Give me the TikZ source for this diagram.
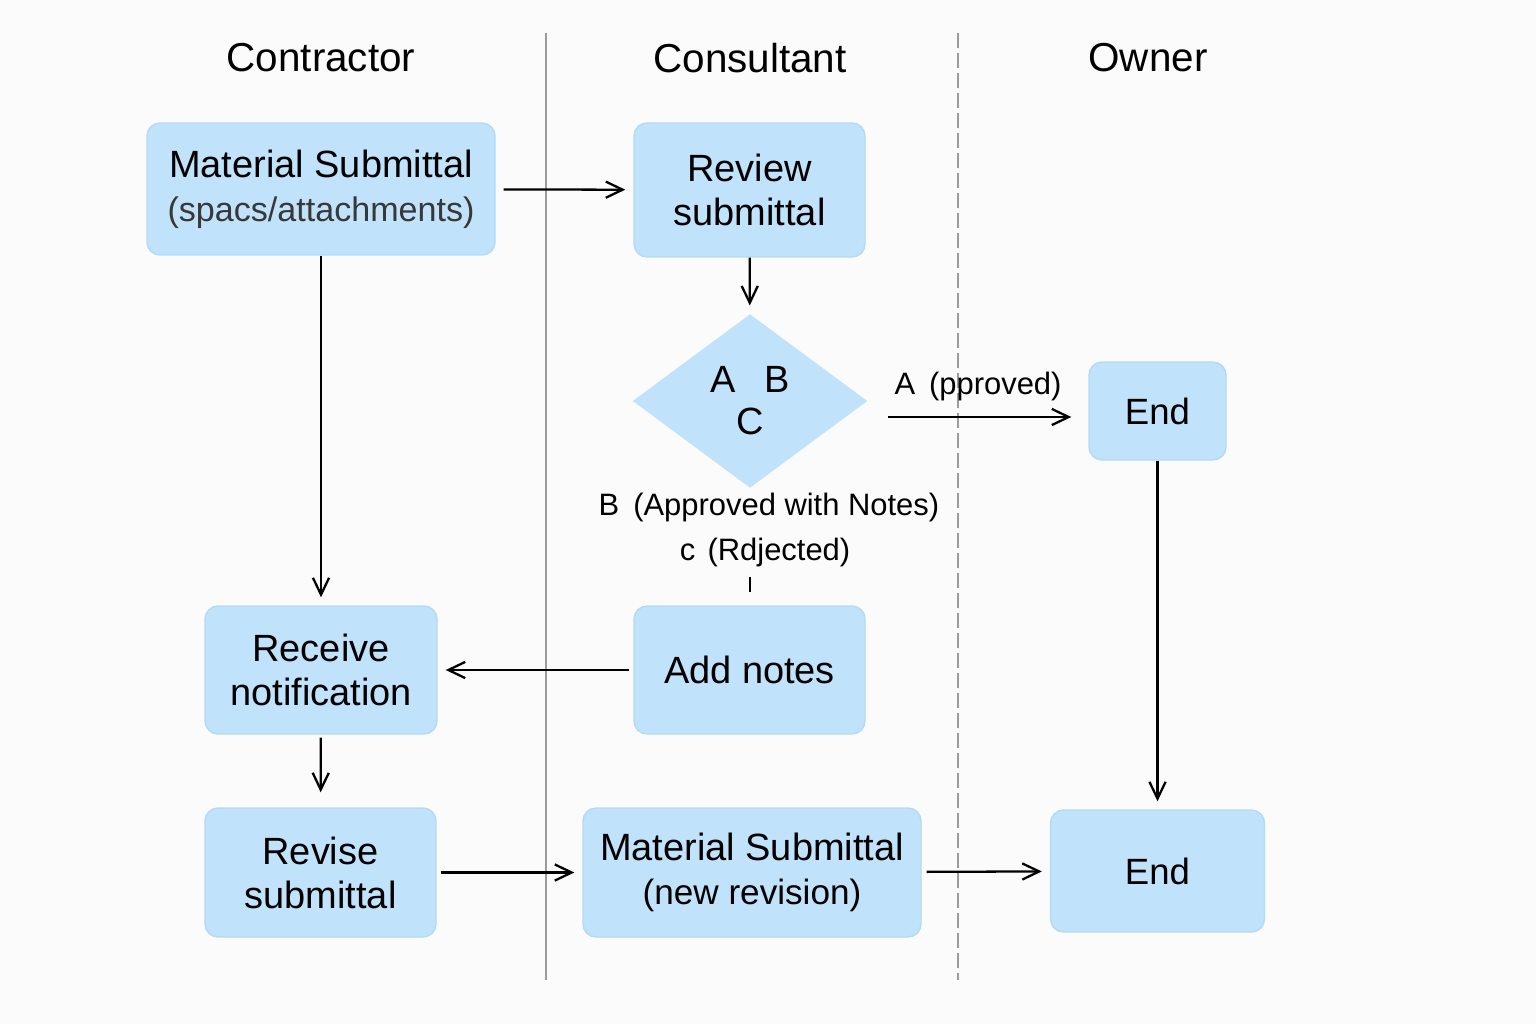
\documentclass[tikz,border=0pt]{standalone}
\usepackage{fontspec}
\setmainfont{Liberation Sans}
\usetikzlibrary{arrows.meta,positioning,shapes.geometric}
\definecolor{boxblue}{HTML}{C0E2FA}
\definecolor{boxedge}{HTML}{B4DAF5}
\definecolor{lanegray}{HTML}{9C9C9C}
\definecolor{paper}{HTML}{FBFBFB}
\definecolor{subgray}{HTML}{383838}
\tikzset{%
	process/.style  = {rectangle, rounded corners=0.13cm, fill=boxblue, draw=boxedge, line width=0.4pt, inner sep=0pt, align=center, font=\fontsize{10.8}{12.5}\selectfont},
	decision/.style = {diamond, fill=boxblue, inner sep=0pt, minimum width=2.35cm, minimum height=1.74cm, align=center, font=\fontsize{10.8}{12}\selectfont},
	lanehead/.style = {font=\fontsize{11.5}{13}\selectfont},
	branch/.style   = {font=\fontsize{8.8}{11}\selectfont},
	lane/.style     = {lanegray, line width=0.4pt},
	arrow/.style    = {line width=0.65pt, -{Straight Barb[length=4.8pt,width=4.6pt]}, shorten >=0.08cm},
}
\begin{document}
\begin{tikzpicture}
	\fill[paper] (0,0) rectangle (15.36,10.24);
	\useasboundingbox (0,0) rectangle (15.36,10.24);
	% swim lanes
	\node[lanehead] (hcontr) at (3.21,9.66) {Contractor};
	\node[lanehead] (hcons) at (7.50,9.66) {Consultant};
	\node[lanehead] (howner) at (11.48,9.66) {Owner};
	\draw[lane] (5.46,9.91) -- (5.46,0.44);
	\draw[lane, dash pattern=on 0.15cm off 0.05cm] (9.58,9.91) -- (9.58,0.44);
	% boxes
	\node[process, minimum width=3.48cm, minimum height=1.32cm] (mat) at (3.21,8.35) {Material Submittal\\{\color{subgray}\fontsize{9.7}{12}\selectfont(spacs/attachments)}};
	\node[process, minimum width=2.31cm, minimum height=1.34cm] (review) at (7.495,8.34) {Review\\submittal};
	\node[decision] (dec) at (7.50,6.23) {\raisebox{-0.03cm}{A\hspace{0.75em}B}\\\raisebox{-0.03cm}{C}};
	\node[process, minimum width=1.37cm, minimum height=0.98cm, font=\fontsize{10.4}{12}\selectfont] (end1) at (11.575,6.13) {End};
	\node[process, minimum width=2.31cm, minimum height=1.28cm] (notes) at (7.495,3.54) {Add notes};
	\node[process, minimum width=2.32cm, minimum height=1.28cm] (recv) at (3.21,3.54) {Receive\\notification};
	\node[process, minimum width=2.31cm, minimum height=1.29cm] (revise) at (3.205,1.515) {Revise\\submittal};
	\node[process, minimum width=3.38cm, minimum height=1.29cm] (newrev) at (7.52,1.515) {Material Submittal\\{\fontsize{10}{12}\selectfont(new revision)}};
	\node[process, minimum width=2.14cm, minimum height=1.22cm, font=\fontsize{10.4}{12}\selectfont] (end2) at (11.575,1.53) {End};
	% branch labels
	\node[branch] (lbla) at (9.78,6.37) {A\hspace{0.45em}(pproved)};
	\node[branch] (lblb) at (7.69,5.16) {B\hspace{0.45em}(Approved with Notes)};
	\node[branch] (lblc) at (7.65,4.72) {c\hspace{0.4em}(Rdjected)};
	\coordinate (ticktop) at (7.50,4.47);
	\coordinate (tickbot) at (7.50,4.32);
	% connectors
	\draw[arrow, shorten <=0.08cm] (mat) -- (review);
	\draw[arrow] (mat) -- (recv);
	\draw[arrow] (review) -- (dec);
	\draw[arrow, shorten <=0.2cm, shorten >=0.17cm] (dec.east |- end1) ++(0,-0.06) coordinate (decout) -- (decout -| end1.west);
	\draw[arrow] (end1) -- (end2);
	\draw[line width=0.55pt] (ticktop) -- (tickbot);
	\draw[arrow, shorten <=0.04cm] (notes) -- (recv);
	\draw[arrow, shorten <=0.03cm, shorten >=0.15cm] (recv) -- (revise);
	\draw[arrow, shorten <=0.04cm] (revise) -- (newrev);
	\draw[arrow, shorten <=0.05cm] (newrev) -- (end2);
\end{tikzpicture}
\end{document}
